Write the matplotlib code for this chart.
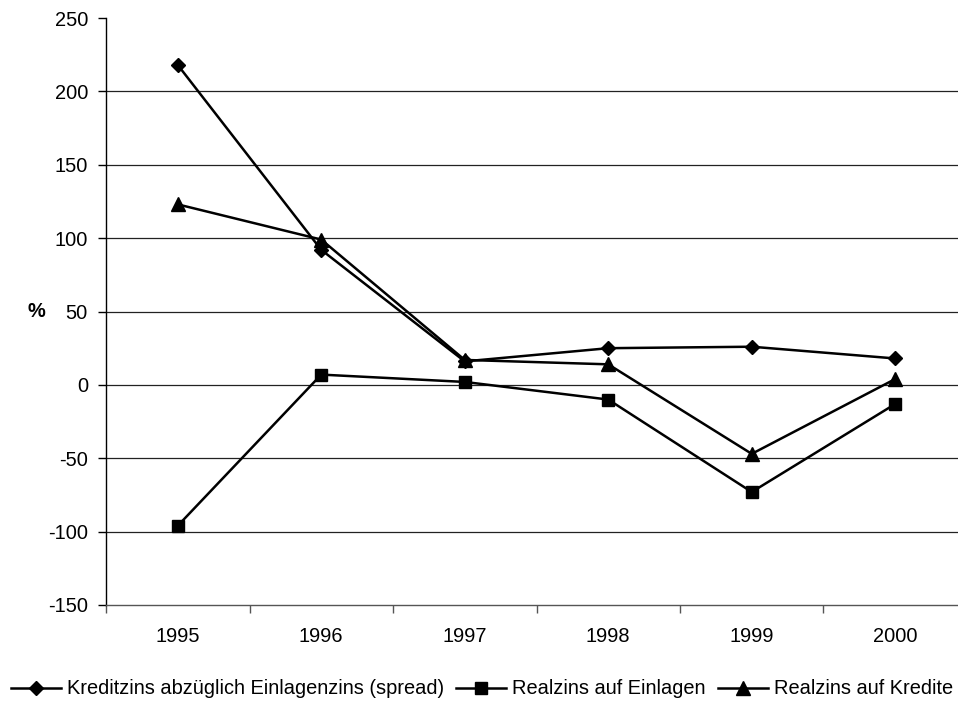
import numpy as np
import matplotlib.pyplot as plt
from matplotlib.ticker import FixedLocator, NullFormatter

plt.rcParams["font.family"] = ["Liberation Sans", "DejaVu Sans"]
plt.rcParams["axes.unicode_minus"] = False
plt.rcParams.update({'font.size': 14.4})

years = ['1995', '1996', '1997', '1998', '1999', '2000']
spread = [218, 92, 16, 25, 26, 18]
real_deposits = [-96, 7, 2, -10, -73, -13]
real_credits = [123, 99, 17, 14, -47, 4]

labels = ['Kreditzins abzüglich Einlagenzins (spread)',
          'Realzins auf Einlagen',
          'Realzins auf Kredite']

y_ticks = [-150, -100, -50, 0, 50, 100, 150, 200, 250]

#----------------------------------

fig = plt.figure(figsize=(9.58, 7.02), dpi=100)
ax = fig.add_axes([106 / 958, 1 - 605 / 702, 861 / 958, 587 / 702])

x = np.arange(len(years))

line_kw = dict(color='black', linewidth=1.8, clip_on=False)
ax.plot(x, spread, marker='D', markersize=7, label=labels[0], **line_kw)
ax.plot(x, real_deposits, marker='s', markersize=9, label=labels[1], **line_kw)
ax.plot(x, real_credits, marker='^', markersize=9.5, label=labels[2], **line_kw)

# horizontal gridlines (not at the top edge, bottom is the axis)
for yv in y_ticks[1:-1]:
    ax.axhline(yv, color='#222222', linewidth=0.9, zorder=0)

ax.set_xlim(-0.5, len(years) - 0.5)
ax.set_ylim(y_ticks[0], y_ticks[-1])
ax.set_yticks(y_ticks)

# ticks between categories, labels at centers
ax.xaxis.set_major_locator(FixedLocator(np.arange(len(years) + 1) - 0.5))
ax.xaxis.set_major_formatter(NullFormatter())
ax.xaxis.set_minor_locator(FixedLocator(x))
ax.set_xticklabels(years, minor=True)
ax.tick_params(axis='x', which='major', direction='out', length=6, width=1, color='#555555')
ax.tick_params(axis='x', which='minor', length=0, pad=16)
ax.tick_params(axis='y', direction='out', length=6, width=1, pad=7)

ax.spines['top'].set_visible(False)
ax.spines['right'].set_visible(False)
ax.spines['left'].set_linewidth(1)
ax.spines['bottom'].set_linewidth(1)
ax.spines['bottom'].set_color('#555555')

fig.text(36 / 958, 1 - 311 / 702, '%', ha='center', va='center', fontweight='bold')

ax.legend(loc='center', bbox_to_anchor=(482 / 958, 1 - 689 / 702),
          bbox_transform=fig.transFigure, ncol=3, frameon=False,
          numpoints=1, handlelength=2.5, handletextpad=0.3, columnspacing=0.6,
          borderaxespad=0, borderpad=0)

plt.savefig("out.png", dpi=100)
